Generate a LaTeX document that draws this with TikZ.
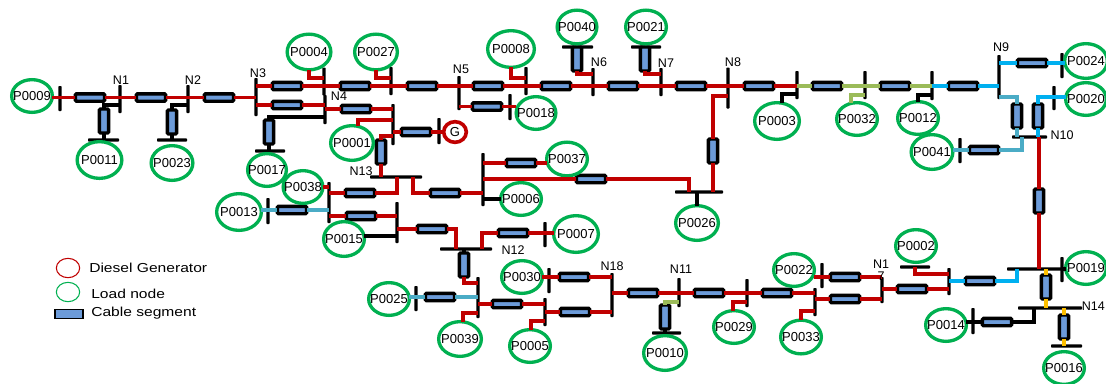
\documentclass[tikz,border=0pt]{standalone}
\usepackage{fontspec}
\usepackage{graphicx}
\setmainfont{Liberation Sans}
\usetikzlibrary{shapes.geometric}
\definecolor{cableblue}{HTML}{6C9BD9}
\definecolor{loadgreen}{HTML}{00B050}
\definecolor{gridred}{HTML}{C00000}
\definecolor{gridolive}{HTML}{9BBB59}
\definecolor{gridteal}{HTML}{4BACC6}
\definecolor{gridsky}{HTML}{00B0F0}
\definecolor{gridamber}{HTML}{FFC000}
\newcommand\lbl[1]{\makebox[0pt]{#1}}
\tikzset{
  x=0.75pt,y=-0.75pt,
  cableh/.style={rectangle,rounded corners=0.9pt,draw=black,line width=2.6pt,fill=cableblue,inner sep=0pt,outer sep=0pt,minimum width=21.8pt,minimum height=5.6pt},
  cablev/.style={rectangle,rounded corners=0.9pt,draw=black,line width=2.6pt,fill=cableblue,inner sep=0pt,outer sep=0pt,minimum width=7pt,minimum height=18pt},
  vbus/.style={rectangle,fill=black,rounded corners=0.6pt,inner sep=0pt,outer sep=0pt,minimum width=2.6pt,minimum height={#1*0.75pt}},
  hbus/.style={rectangle,fill=black,rounded corners=0.6pt,inner sep=0pt,outer sep=0pt,minimum height=2.6pt,minimum width={#1*0.75pt}},
  loadnode/.style n args={2}{ellipse,draw=loadgreen,line width=2.5pt,inner sep=0pt,outer sep=0pt,minimum width={(2*#1-3.3)*0.75pt},minimum height={(2*#2-3.3)*0.75pt},font=\fontsize{9.75}{11}\selectfont},
  gennode/.style={ellipse,draw=gridred,line width=2.7pt,inner sep=0pt,outer sep=0pt,minimum width=17pt,minimum height=15.5pt,font=\fontsize{9.75}{11}\selectfont},
  nlabel/.style={inner sep=0pt,font=\fontsize{9.4}{9}\selectfont,align=center},
  legendtext/.style={inner sep=0pt,anchor=west,font=\fontsize{9.75}{11}\selectfont},
  redl/.style={draw=gridred,line width=2.5pt},
  blkl/.style={draw=black,line width=2.5pt},
  olvl/.style={draw=gridolive,line width=2.5pt},
  teal/.style={draw=gridteal,line width=2.5pt},
  skyl/.style={draw=gridsky,line width=2.5pt},
  ambl/.style={draw=gridamber,line width=2.5pt},
}
\begin{document}
\begin{tikzpicture}
\path[use as bounding box,fill=white] (0,0) rectangle (1106,383);

% buses
\node[vbus=25] (b9) at (60,98.5) {};
\node[vbus=28] (n1) at (120,99) {};
\node[vbus=28] (n2) at (188,99) {};
\node[vbus=38] (n3) at (256,97) {};
\node[vbus=28] (n4a) at (324,81.5) {};
\node[vbus=29] (n4) at (325,109.5) {};
\node[vbus=28] (n4b) at (391,81) {};
\node[vbus=41] (b393) at (393,124.5) {};
\node[vbus=26] (bg) at (439,131) {};
\node[hbus=31] (b11) at (103.5,140) {};
\node[hbus=30] (b23) at (172,140) {};
\node[hbus=30] (b17) at (270,151) {};
\node[vbus=34] (n5) at (459,93) {};
\node[vbus=28] (b8) at (526,81) {};
\node[vbus=26] (b18) at (510,107) {};
\node[vbus=28] (n6) at (593,82) {};
\node[vbus=28] (n7) at (661,82) {};
\node[hbus=31] (b40) at (577.5,47) {};
\node[hbus=30] (b21) at (646,47) {};
\node[vbus=41] (n8) at (728,88) {};
\node[vbus=28] (b3) at (797,85) {};
\node[vbus=28] (b32) at (865,85) {};
\node[vbus=29] (b12) at (932,85.5) {};
\node[vbus=44] (n9) at (999,77) {};
\node[vbus=25] (b24) at (1062,65.5) {};
\node[vbus=24] (b20) at (1054,98) {};
\node[hbus=35] (n10) at (1029.5,137) {};
\node[vbus=25] (b41) at (960,150.5) {};
\node[hbus=52] (n13) at (396,177) {};
\node[vbus=41] (b329) at (329,202.5) {};
\node[vbus=26] (b13) at (268,211) {};
\node[vbus=41] (b397) at (397,222.5) {};
\node[hbus=52] (n12) at (466,249) {};
\node[vbus=53] (b483) at (483,179.5) {};
\node[hbus=48] (b26) at (699,192) {};
\node[vbus=25] (b7) at (545,234.5) {};
\node[hbus=56] (b19h) at (1035,269) {};
\node[vbus=25] (b19) at (1062,269.5) {};
\node[hbus=64] (n14) at (1050,308) {};
\node[vbus=26] (b14) at (973,321) {};
\node[hbus=31] (b16) at (1066.5,346) {};
\node[hbus=30] (b2) at (915,267) {};
\node[vbus=27] (b949) at (949,281.5) {};
\node[vbus=26] (n17) at (882,290) {};
\node[vbus=25] (b22) at (822,275.5) {};
\node[vbus=28] (b33) at (815,302) {};
\node[vbus=28] (b29) at (747,293) {};
\node[vbus=29] (n11) at (679,292.5) {};
\node[hbus=29] (b10) at (666.5,333) {};
\node[vbus=44] (n18) at (612,295) {};
\node[vbus=25] (b30) at (549,280.5) {};
\node[vbus=28] (b5) at (545,312) {};
\node[vbus=41] (b39) at (478,297.5) {};
\node[vbus=25] (b25) at (416,298.5) {};

% cable segments
\node[cableh] (c1) at (90,97.5) {};
\node[cableh] (c2) at (151,97.5) {};
\node[cableh] (c3) at (219,97.5) {};
\node[cablev] (c11) at (104,121) {};
\node[cablev] (c23) at (172,122) {};
\node[cableh] (c4) at (287,86) {};
\node[cableh] (c5) at (287,105) {};
\node[cablev] (c17) at (269,132) {};
\node[cableh] (c6) at (355,86) {};
\node[cableh] (c7) at (356,109) {};
\node[cableh] (cg) at (416,132) {};
\node[cablev] (c13v) at (381,152) {};
\node[cableh] (c8) at (422,86) {};
\node[cableh] (c9) at (488,86) {};
\node[cableh] (c18) at (487,106.5) {};
\node[cableh] (c10) at (556,86) {};
\node[cablev] (c40) at (577,59) {};
\node[cableh] (c12) at (623,86) {};
\node[cablev] (c21) at (645,59) {};
\node[cableh] (c14) at (691,86) {};
\node[cableh] (c15) at (759,86) {};
\node[cablev] (c26v) at (713,151) {};
\node[cableh] (c16) at (827,86) {};
\node[cableh] (c19) at (895,86) {};
\node[cableh] (c20) at (963,86) {};
\node[cableh] (c24) at (1032,63) {};
\node[cablev] (c9a) at (1017,116) {};
\node[cablev] (c20v) at (1038,116) {};
\node[cableh] (c41) at (984,150) {};
\node[cablev] (c10v) at (1039,201) {};
\node[cableh] (c38) at (360,193) {};
\node[cableh] (c13) at (292,210) {};
\node[cableh] (c15a) at (361,216) {};
\node[cableh] (c12a) at (432,229) {};
\node[cableh] (c13b) at (445,193) {};
\node[cableh] (c37) at (521,163) {};
\node[cableh] (c26) at (591,179) {};
\node[cableh] (c7a) at (513,233) {};
\node[cablev] (c12v) at (464,265) {};
\node[cableh] (c25) at (440,297) {};
\node[cableh] (c39) at (507,304) {};
\node[cableh] (c30) at (574,277) {};
\node[cableh] (c5a) at (575,312) {};
\node[cableh] (c18a) at (643,293) {};
\node[cableh] (c29) at (709,293) {};
\node[cablev] (c10a) at (665,317) {};
\node[cableh] (c22) at (777,293) {};
\node[cableh] (c17a) at (845,277) {};
\node[cableh] (c17b) at (845,299) {};
\node[cableh] (c17c) at (912,289) {};
\node[cableh] (c19a) at (980,281) {};
\node[cablev] (c14v) at (1046,287) {};
\node[cableh] (c14a) at (997,322) {};
\node[cablev] (c16v) at (1064,327) {};

% load nodes
\node[loadnode={22}{18}] (p9) at (32,96) {\lbl{P0009}};
\node[loadnode={24}{20}] (p11) at (99.5,160) {\lbl{P0011}};
\node[loadnode={22.5}{19}] (p23) at (172,163) {\lbl{P0023}};
\node[loadnode={23.5}{19.5}] (p4) at (309,52) {\lbl{P0004}};
\node[loadnode={23}{19.5}] (p27) at (376,52) {\lbl{P0027}};
\node[loadnode={25}{20}] (p8) at (511,49) {\lbl{P0008}};
\node[loadnode={21.5}{18.5}] (p40) at (577,27) {\lbl{P0040}};
\node[loadnode={22}{18.5}] (p21) at (646,27) {\lbl{P0021}};
\node[loadnode={21.5}{18}] (p18) at (536,113) {\lbl{P0018}};
\node[loadnode={23}{19}] (p1) at (352,143) {\lbl{P0001}};
\node[loadnode={21}{18}] (p17) at (267,170) {\lbl{P0017}};
\node[loadnode={21.5}{18}] (p38) at (303,187) {\lbl{P0038}};
\node[loadnode={24}{20}] (p13) at (239,212) {\lbl{P0013}};
\node[loadnode={22}{19}] (p15) at (344,239) {\lbl{P0015}};
\node[loadnode={22}{18.5}] (p37) at (567,159) {\lbl{P0037}};
\node[loadnode={22}{18}] (p6) at (521,199) {\lbl{P0006}};
\node[loadnode={24}{20}] (p7) at (576,234) {\lbl{P0007}};
\node[loadnode={23}{19}] (p26) at (697,223) {\lbl{P0026}};
\node[loadnode={24}{20}] (p3) at (777,121) {\lbl{P0003}};
\node[loadnode={22}{18}] (p32) at (857,119) {\lbl{P0032}};
\node[loadnode={22}{18}] (p12) at (918,118) {\lbl{P0012}};
\node[loadnode={22.5}{19}] (p41) at (932,152) {\lbl{P0041}};
\node[loadnode={23}{19}] (p24) at (1086,61) {\lbl{P0024}};
\node[loadnode={22}{18}] (p20) at (1086,99) {\lbl{P0020}};
\node[loadnode={22}{18}] (p19) at (1086,268) {\lbl{P0019}};
\node[loadnode={22}{18}] (p2) at (916,246) {\lbl{P0002}};
\node[loadnode={22}{18}] (p22) at (794,270) {\lbl{P0022}};
\node[loadnode={22}{18.5}] (p33) at (801,337) {\lbl{P0033}};
\node[loadnode={22}{18}] (p29) at (734,327) {\lbl{P0029}};
\node[loadnode={22}{18}] (p14) at (946,325) {\lbl{P0014}};
\node[loadnode={22}{18}] (p16) at (1064,368) {\lbl{P0016}};
\node[loadnode={23}{19}] (p10) at (665,353) {\lbl{P0010}};
\node[loadnode={22}{18}] (p30) at (522,277) {\lbl{P0030}};
\node[loadnode={22}{18}] (p5) at (530,346) {\lbl{P0005}};
\node[loadnode={23}{19}] (p39) at (460,339) {\lbl{P0039}};
\node[loadnode={22}{18}] (p25) at (389,299) {\lbl{P0025}};
\node[gennode] (gen) at (455,132) {G};

% connectors
\draw[redl] (p9.east |- c1) -- (c1.west) (c1.east) -- (c2.west) (c2.east) -- (c3.west) (c3.east) -- (n3 |- c3);
\draw[blkl] (n1 |- 0,105) -| (c11.north);
\draw[blkl] (c11.south) -- (c11.south |- b11);
\draw[blkl] (n2 |- 0,105) -| (c23.north);
\draw[blkl] (c23.south) -- (c23.south |- b23);
\draw[redl] (n3 |- c4) -- (c4.west) (c4.east) -- (c6.west) (c6.east) -- (c8.west) (c8.east) -- (n5 |- c8);
\draw[redl] (n3 |- c5) -- (c5.west) (c5.east) -- (n4 |- c5);
\draw[redl] (p4.south) |- (n4a |- 0,78);
\draw[redl] (p27.south) |- (n4b |- 0,78);
\draw[blkl] (n4 |- 0,117) -| (c17.north);
\draw[blkl] (c17.south) -- (c17.south |- b17);
\draw[redl] (n4 |- c7) -- (c7.west) (c7.east) -- (b393 |- c7);
\draw[redl] (p1.north -| 358,0) |- (b393 |- 0,120);
\draw[redl] (b393 |- cg) -- (cg.west) (cg.east) -- (gen.west);
\draw[redl] (c13v.north) |- (b393 |- 0,136);
\draw[redl] (c13v.south) -- (c13v.south |- n13);
\draw[redl] (n5 |- c9) -- (c9.west) (c9.east) -- (c10.west) (c10.east) -- (c12.west) (c12.east) -- (c14.west) (c14.east) -- (c15.west) (c15.east) -- (b3 |- c15);
\draw[redl] (n5 |- c18) -- (c18.west) (c18.east) -- (p18.west |- c18);
\draw[redl] (p8.south) |- (b8 |- 0,78);
\draw[redl] (c40.south) |- (n6 |- 0,74);
\draw[blkl] (c40.north) -- (c40.north |- b40);
\draw[redl] (c21.south) |- (n7 |- 0,74);
\draw[blkl] (c21.north) -- (c21.north |- b21);
\draw[redl] (n8 |- 0,96) -| (c26v.north);
\draw[redl] (c26v.south) -- (c26v.south |- b26);
\draw[blkl] (b3 |- 0,94) -| (p3.north -| 782,0);
\draw[olvl] (b3 |- c16) -- (c16.west) (c16.east) -- (c19.west) (c19.east) -- (b12 |- c19);
\draw[olvl] (b32 |- 0,95) -| (p32.north -| 851,0);
\draw[blkl] (b12 |- 0,95) -| (p12.north);
\draw[skyl] (b12 |- c20) -- (c20.west) (c20.east) -- (n9 |- c20);
\draw[skyl] (n9 |- c24) -- (c24.west) (c24.east) -- (p24.west |- c24);
\draw[skyl] (p20.west |- 0,97) -| (c20v.north);
\draw[skyl] (c20v.south) -- (c20v.south |- n10);
\draw[teal] (n9 |- 0,97) -| (c9a.north);
\draw[teal] (c9a.south) -- (c9a.south |- n10);
\draw[teal] (n10 -| 1022,0) |- (c41.east);
\draw[teal] (c41.west) -- (p41.east |- c41);
\draw[redl] (n10 -| c10v) -- (c10v.north);
\draw[redl] (c10v.south) -- (c10v.south |- b19h);
\draw[redl] (n13 -| 397,0) |- (c38.east);
\draw[redl] (c38.west) -- (b329 |- c38);
\draw[redl] (b329 |- 0,187) -- (p38.east |- 0,187);
\draw[teal] (b329 |- c13) -- (c13.east) (c13.west) -- (p13.east |- c13);
\draw[redl] (b329 |- c15a) -- (c15a.west) (c15a.east) -- (b397 |- c15a);
\draw[blkl] (p15.east |- 0,236) -- (b397 |- 0,236);
\draw[redl] (b397 |- c12a) -- (c12a.west);
\draw[redl] (c12a.east) -| (n12 -| 456,0);
\draw[redl] (n13 -| 413,0) |- (c13b.west);
\draw[redl] (c13b.east) -- (b483 |- c13b);
\draw[redl] (b483 |- c37) -- (c37.west) (c37.east) -- (p37.west |- c37);
\draw[redl] (b483 |- c26) -- (c26.west);
\draw[redl] (c26.east) -| (b26 -| 689,0);
\draw[blkl] (b26 -| p26) -- (p26.north);
\draw[blkl] (b483 |- p6) -- (p6.west);
\draw[redl] (n12 -| 482,0) |- (c7a.west);
\draw[redl] (c7a.east) -- (p7.west |- c7a);
\draw[blkl] (n12 -| c12v) -- (c12v.north);
\draw[redl] (c12v.south) |- (b39 |- 0,283);
\draw[teal] (b39 |- c25) -- (c25.east) (c25.west) -- (p25.east |- c25);
\draw[redl] (p39.north -| 463,0) |- (b39 |- 0,313);
\draw[redl] (b39 |- c39) -- (c39.west) (c39.east) -- (b5 |- c39);
\draw[redl] (p5.north -| 531,0) |- (b5 |- 0,321);
\draw[redl] (b5 |- c5a) -- (c5a.west) (c5a.east) -- (n18 |- c5a);
\draw[redl] (p30.east |- c30) -- (c30.west) (c30.east) -- (n18 |- c30);
\draw[redl] (n18 |- c18a) -- (c18a.west) (c18a.east) -- (c29.west) (c29.east) -- (c22.west) (c22.east) -- (b33 |- c22);
\draw[olvl] (n11 |- 0,302) -| (c10a.north);
\draw[blkl] (c10a.south) -- (c10a.south |- b10);
\draw[redl] (p29.north -| 733,0) |- (b29 |- 0,302);
\draw[redl] (p33.north -| 801,0) |- (b33 |- 0,311);
\draw[redl] (b33 |- c17b) -- (c17b.west) (c17b.east) -- (n17 |- c17b);
\draw[redl] (p22.east |- c17a) -- (c17a.west) (c17a.east) -- (n17 |- c17a);
\draw[redl] (n17 |- c17c) -- (c17c.west) (c17c.east) -- (b949 |- c17c);
\draw[redl] (b2 -| 915,0) |- (b949 |- 0,274);
\draw[skyl] (b949 |- c19a) -- (c19a.west) (c19a.east) -| (b19h -| 1017,0);
\draw[ambl] (b19h -| c14v) -- (c14v.north);
\draw[ambl] (c14v.south) -- (c14v.south |- n14);
\draw[blkl] (n14 -| 1034,0) |- (c14a.east);
\draw[blkl] (c14a.west) -- (p14.east |- c14a);
\draw[ambl] (n14 -| c16v) -- (c16v.north);
\draw[ambl] (c16v.south) -- (c16v.south |- b16);
\draw[blkl] (b19 |- b19h) -- (p19.west |- b19h);

% node labels
\node[nlabel] (ln1) at (121,80) {N1};
\node[nlabel] (ln2) at (193,80) {N2};
\node[nlabel] (ln3) at (258,73) {N3};
\node[nlabel] (ln4) at (339,96) {N4};
\node[nlabel] (ln5) at (461,69) {N5};
\node[nlabel] (ln6) at (599,62) {N6};
\node[nlabel] (ln7) at (666,63) {N7};
\node[nlabel] (ln8) at (733,62) {N8};
\node[nlabel] (ln9) at (1001,47) {N9};
\node[nlabel] (ln10) at (1062,135) {N10};
\node[nlabel] (ln11) at (681,269) {N11};
\node[nlabel] (ln12) at (513,250) {N12};
\node[nlabel] (ln13) at (361,171) {N13};
\node[nlabel,anchor=east] (ln14) at (1105,306) {N14};
\node[nlabel] (ln17) at (881,270) {N1\\7};
\node[nlabel] (ln18) at (612,266) {N18};

% legend
\node[ellipse,draw=gridred,line width=0.8pt,inner sep=0pt,minimum width=17.5pt,minimum height=14.5pt] (lg) at (68,268) {};
\node[ellipse,draw=loadgreen,line width=0.8pt,inner sep=0pt,minimum width=17.5pt,minimum height=14.5pt] (ll) at (68,292) {};
\node[rectangle,draw=black,line width=0.9pt,fill=cableblue,inner sep=0pt,minimum width=21pt,minimum height=6.2pt] (lc) at (69,314) {};
\node[legendtext] (tg) at (89,268) {\scalebox{1.2}[1]{Diesel Generator}};
\node[legendtext] (tl) at (91,294) {\scalebox{1.2}[1]{Load node}};
\node[legendtext] (tc) at (91,313) {\scalebox{1.2}[1]{Cable segment}};
\end{tikzpicture}
\end{document}
